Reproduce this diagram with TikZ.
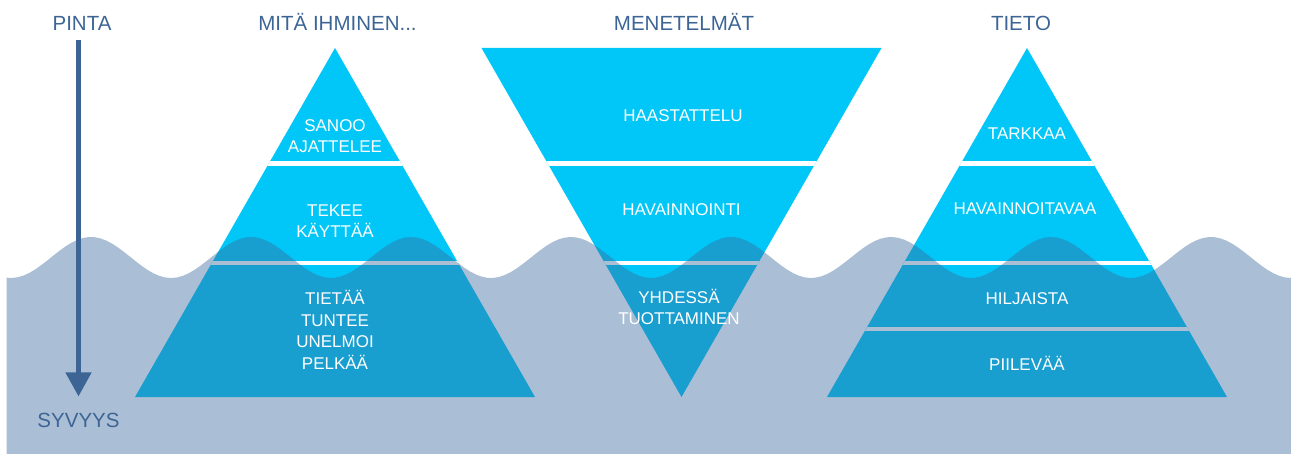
\documentclass[tikz,border=0pt]{standalone}
\usepackage{fontspec}
\setmainfont{Liberation Sans}
\usetikzlibrary{arrows.meta}
\definecolor{jaa}{RGB}{0,199,247}
\definecolor{meri}{RGB}{59,105,157}
\definecolor{teksti}{RGB}{60,101,150}

\begin{document}
\begin{tikzpicture}[x=1pt,y=-1pt,
  otsikko/.style={text=teksti,font=\fontsize{20.5}{24}\selectfont,inner sep=0pt,text height=14.7pt,text depth=0pt},
  kerros/.style={text=white,font=\fontsize{17}{21.5}\selectfont,align=center,inner sep=0pt},
  sauma/.style={white,line width=4.5pt}]
\useasboundingbox (0,0) rectangle (1291,454);

% jäävuoret
\begin{scope}
  \fill[jaa] (335,48) -- (535,397) -- (135,397) -- cycle;
  \clip (335,48) -- (535,397) -- (135,397) -- cycle;
  \foreach \y in {163.5,263} \draw[sauma] (100,\y) -- (570,\y);
\end{scope}
\begin{scope}
  \fill[jaa] (481.5,48) -- (881.5,48) -- (681.5,397) -- cycle;
  \clip (481.5,48) -- (881.5,48) -- (681.5,397) -- cycle;
  \foreach \y in {163.5,263} \draw[sauma] (450,\y) -- (910,\y);
\end{scope}
\begin{scope}
  \fill[jaa] (1027,48) -- (1227,397) -- (827,397) -- cycle;
  \clip (1027,48) -- (1227,397) -- (827,397) -- cycle;
  \foreach \y in {163.5,263,329} \draw[sauma] (800,\y) -- (1260,\y);
\end{scope}

% meri
\fill[meri,opacity=0.43] (6.5,454) -- plot[domain=6.5:1291,samples=220] (\x,{257.5-20.5*cos(2.25*(\x-91))}) -- (1291,454) -- cycle;

% syvyys
\node[otsikko] (pinta) at (82,23) {PINTA};
\node[otsikko] (syvyys) at (78.5,420) {SYVYYS};
\draw[teksti,line width=4.7pt,-{Triangle[width=25pt,length=24pt]},shorten <=9.6pt,shorten >=16pt] (pinta.south -| syvyys) -- (syvyys.north);

\node[otsikko] (ihminen) at (337.5,23) {MITÄ IHMINEN...};
\node[otsikko] (menetelmat) at (684,23) {MENETELMÄT};
\node[otsikko] (tieto) at (1021,23) {TIETO};

\node[kerros] (sanoo) at (335,136) {SANOO\\AJATTELEE};
\node[kerros] (tekee) at (335,221) {TEKEE\\KÄYTTÄÄ};
\node[kerros] (tietaa) at (335,330) {TIETÄÄ\\TUNTEE\\UNELMOI\\PELKÄÄ};

\node[kerros] (haastattelu) at (683,116) {HAASTATTELU};
\node[kerros] (havainnointi) at (681.5,210) {HAVAINNOINTI};
\node[kerros] (yhdessa) at (679,307) {YHDESSÄ\\TUOTTAMINEN};

\node[kerros] (tarkkaa) at (1027,134) {TARKKAA};
\node[kerros] (havainnoitavaa) at (1025,209) {HAVAINNOITAVAA};
\node[kerros] (hiljaista) at (1027,299) {HILJAISTA};
\node[kerros] (piilevaa) at (1027,363) {PIILEVÄÄ};
\end{tikzpicture}
\end{document}
